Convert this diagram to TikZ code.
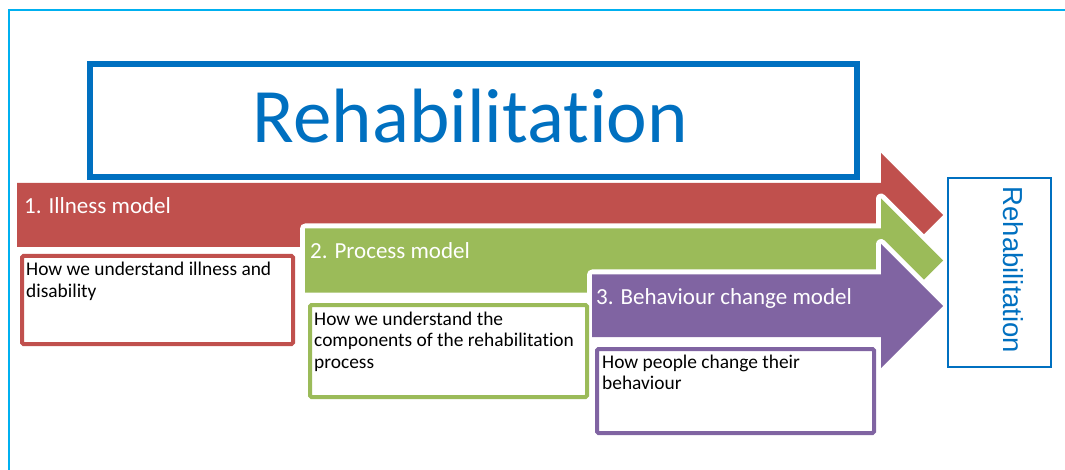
\documentclass[tikz,border=0pt]{standalone}
\usepackage{fontspec}
\setmainfont{Carlito}[RawFeature={-liga;-clig;-calt}]
\newfontfamily\arialfont{Liberation Sans}[RawFeature={-liga;-clig}]
\definecolor{rhred}{HTML}{C0504D}
\definecolor{rhgreen}{HTML}{9BBB59}
\definecolor{rhpurple}{HTML}{8064A2}
\definecolor{rhblue}{HTML}{0070C0}
\definecolor{framecyan}{HTML}{00B0F0}
\begin{document}
\begin{tikzpicture}[x=1pt,y=-1pt,
  bigarrow/.style={fill=#1, preaction={draw=white, line width=10pt, line join=round}},
  textbox/.style={draw=#1, line width=4pt, rounded corners=1.5pt, fill=white, inner sep=0pt, anchor=north west},
  boxtext/.style={anchor=base west, inner sep=0pt, align=left, text=black, font=\fontsize{19.4}{21.5}\selectfont},
  arrowlabel/.style={anchor=base west, inner sep=0pt, text=white, font=\fontsize{23}{27}\selectfont}]
\useasboundingbox (0,0) rectangle (1065,470);
% outer frame
\draw[framecyan, line width=2pt] (1070,10.5) -- (9,10.5) -- (9,475);
% arrows
\path[bigarrow=rhred] (17,183) -- (881,183) -- (881,153) -- (943,215) -- (881,277) -- (881,247) -- (17,247) -- cycle;
\path[bigarrow=rhgreen] (305,228.5) -- (881,228.5) -- (881,198.5) -- (943,260.5) -- (881,322.5) -- (881,292.5) -- (305,292.5) -- cycle;
\path[bigarrow=rhpurple] (592,274.5) -- (881,274.5) -- (881,244) -- (943,306) -- (881,368) -- (881,337) -- (592,337) -- cycle;
\node[arrowlabel] (l1) at (24,214) {1. Illness model};
\node[arrowlabel] (l2) at (310,259) {2. Process model};
\node[arrowlabel] (l3) at (596,304) {3. Behaviour change model};
% title box
\node[draw=rhblue, line width=6pt, fill=white, minimum width=767pt, minimum height=113pt, inner sep=0pt, anchor=north west] (titlebox) at (87,61) {};
\node[anchor=base, inner sep=0pt, text=rhblue, font=\fontsize{77}{90}\selectfont] (title) at (470.5,143) {Rehabilitation};
% text boxes (base anchor = baseline of last line)
\node[textbox=rhred, minimum width=271pt, minimum height=88pt] (b1) at (20,254) {};
\node[boxtext] (t1) at ([xshift=6pt,yshift=-43.5pt]b1.north west) {How we understand illness and\\disability};
\node[textbox=rhgreen, minimum width=277pt, minimum height=92pt] (b2) at (308,303) {};
\node[boxtext] (t2) at ([xshift=6pt,yshift=-65pt]b2.north west) {How we understand the\\components of the rehabilitation\\process};
\node[textbox=rhpurple, minimum width=277pt, minimum height=84pt] (b3) at (595,347) {};
\node[boxtext] (t3) at ([xshift=7pt,yshift=-42.5pt]b3.north west) {How people change their\\behaviour};
% right box
\node[draw=rhblue, line width=1.8pt, fill=white, minimum width=103pt, minimum height=189pt, inner sep=0pt, anchor=north west] (rbox) at (947,177) {};
\node[rotate=-90, inner sep=0pt, text=rhblue, font=\arialfont\fontsize{27.5}{33}\selectfont] (rtext) at (1013,270) {Rehabilitation};
\end{tikzpicture}
\end{document}
